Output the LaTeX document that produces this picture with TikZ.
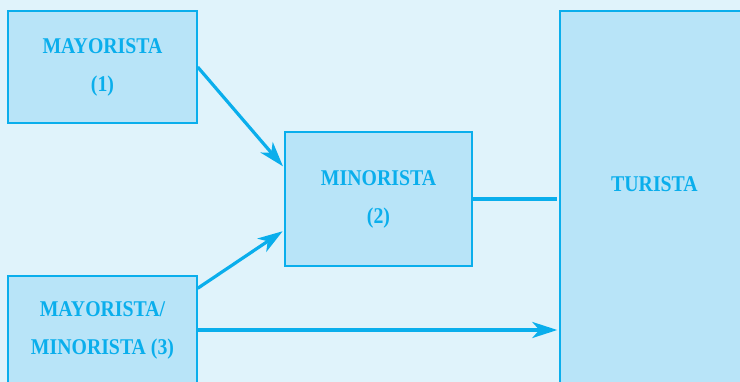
\documentclass[tikz,border=0pt]{standalone}
\usepackage{fontspec}
\setmainfont{Liberation Serif}
\usetikzlibrary{arrows.meta,calc}
\definecolor{bgblue}{HTML}{E0F3FB}
\definecolor{boxblue}{HTML}{B8E4F8}
\definecolor{cyanline}{HTML}{0AAEEC}
\newcommand{\narrow}[1]{\scalebox{0.88}[1]{#1}}
\tikzset{
  labelfont/.style={font=\bfseries\fontsize{22.5}{38}\selectfont},
  agent/.style={draw=cyanline, fill=boxblue, line width=1.4pt, inner sep=0pt,
    text=cyanline, align=center, labelfont},
  flow/.style={draw=cyanline, line width=3.2pt,
    -{Stealth[length=25pt,width=16pt,inset=7pt]}},
  link/.style={draw=cyanline, line width=3.2pt},
}
\begin{document}
\begin{tikzpicture}[x=1pt,y=-1pt]
  \useasboundingbox (0,0) rectangle (740,382);
  \clip (0,0) rectangle (740,382);
  \fill[bgblue] (0,0) rectangle (740,382);

  % trade agents
  \node[agent, minimum width=189pt, minimum height=112pt] (m1) at (102.5,67)
    {\narrow{MAYORISTA}\\\narrow{(1)}};
  \node[agent, minimum width=187pt, minimum height=134pt] (m2) at (378.5,199)
    {\narrow{MINORISTA}\\\narrow{(2)}};
  \node[agent, minimum width=189pt, minimum height=108pt] (m3) at (102.5,330)
    {\narrow{MAYORISTA/}\\\narrow{MINORISTA (3)}};
  \node[agent, minimum width=200pt, minimum height=389pt] (t) at (660,205.5) {};
  \node[text=cyanline, inner sep=0pt, labelfont]
    (tl) at (654.5,184) {\narrow{TURISTA}};

  % distribution channels
  \coordinate (m2a) at ($(m2.north west)!0.27!(m2.south west)$);
  \coordinate (m2b) at ($(m2.north west)!0.73!(m2.south west)$);
  \coordinate (m3a) at ($(m3.north east)+(0,13)$);
  \draw[flow, shorten >=2pt] (m1.east) -- (m2a);
  \draw[flow, shorten >=2pt] (m3a) -- (m2b);
  \draw[link, shorten >=2pt] (m2.east) -- (m2.east -| t.west);
  \draw[flow, shorten >=2pt] (m3.east) -- (m3.east -| t.west);
\end{tikzpicture}
\end{document}
